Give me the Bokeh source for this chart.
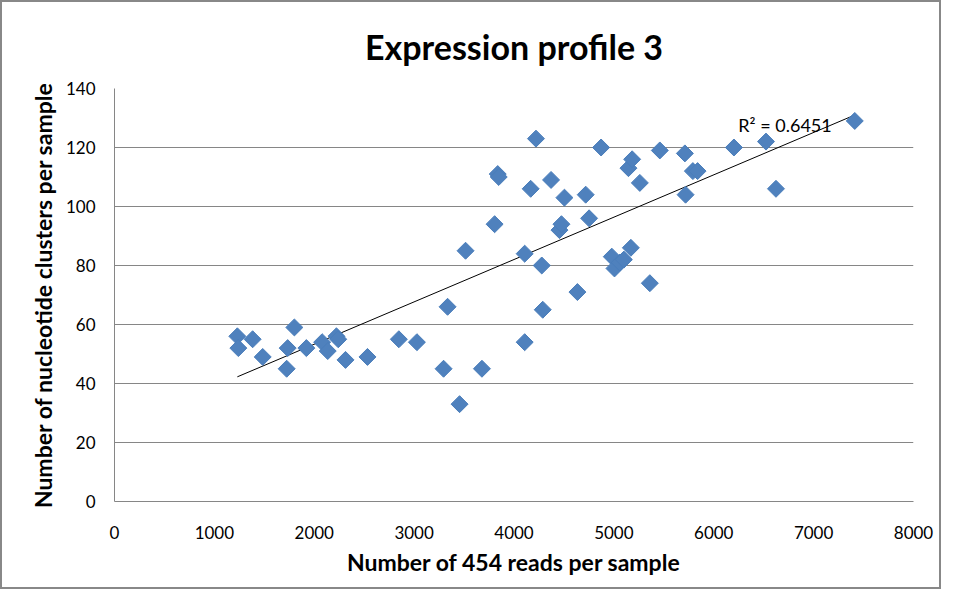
import numpy as np
from bokeh.plotting import figure
from bokeh.models import Range1d, FixedTicker, Label, ColumnDataSource
from bokeh.embed import file_html
from bokeh.resources import INLINE

# ---- data ----
reads = [1230, 1240, 1383, 1484, 1724, 1734, 1801, 1921, 2079, 2135, 2222, 2240,
         2313, 2533, 2847, 3028, 3295, 3335, 3455, 3515, 3679, 3806, 3837, 3847,
         4107, 4107, 4167, 4220, 4278, 4288, 4371, 4455, 4475, 4505, 4635, 4718,
         4752, 4872, 4979, 5006, 5060, 5100, 5146, 5170, 5183, 5260, 5360, 5460,
         5711, 5718, 5791, 5838, 6202, 6523, 6623, 7412]
clusters = [56, 52, 55, 49, 45, 52, 59, 52, 54, 51, 56, 55,
            48, 49, 55, 54, 45, 66, 33, 85, 45, 94, 111, 110,
            54, 84, 106, 123, 80, 65, 109, 92, 94, 103, 71, 104,
            96, 120, 83, 79, 81, 82, 113, 86, 116, 108, 74, 119,
            118, 104, 112, 112, 120, 122, 106, 129]
x_ticks = [0, 1000, 2000, 3000, 4000, 5000, 6000, 7000, 8000]
y_ticks = [0, 20, 40, 60, 80, 100, 120, 140]
title_text = "Expression profile 3"
x_title = "Number of 454 reads per sample"
y_title = "Number of nucleotide clusters per sample"
r2_text = "R\u00b2 = 0.6451"

FONT = "Lato"
GRID = "#868686"

p = figure(output_backend="svg", toolbar_location=None,
           frame_width=799, frame_height=413,
           min_border_left=112, min_border_right=26,
           min_border_top=86, min_border_bottom=86,
           x_range=Range1d(0, 8000), y_range=Range1d(0, 140),
           title=title_text)
p.styles = {"border": "2px solid #888888"}

p.title.align = "center"
p.title.text_font = FONT
p.title.text_font_size = "34px"
p.title.text_font_style = "bold"
p.title.text_color = "black"
p.title.standoff = 43

p.outline_line_color = None
p.xgrid.grid_line_color = None
p.ygrid.grid_line_color = GRID
p.ygrid.grid_line_width = 1

p.xaxis.ticker = FixedTicker(ticks=x_ticks)
p.yaxis.ticker = FixedTicker(ticks=y_ticks)
for ax in (p.xaxis, p.yaxis):
    ax.axis_line_color = GRID
    ax.major_tick_line_color = None
    ax.minor_tick_line_color = None
    ax.major_tick_out = 0
    ax.major_tick_in = 0
    ax.major_label_text_font = FONT
    ax.major_label_text_font_size = "17px"
    ax.major_label_text_color = "black"
    ax.axis_label_text_font = FONT
    ax.axis_label_text_font_size = "23px"
    ax.axis_label_text_font_style = "bold"
    ax.axis_label_text_color = "black"

p.xaxis.axis_label = x_title
p.yaxis.axis_label = y_title
p.xaxis.major_label_standoff = 24
p.xaxis.axis_label_standoff = 6
p.yaxis.major_label_standoff = 19
p.yaxis.axis_label_standoff = 6

# linear trend line from the data
xa = np.array(reads, dtype=float)
ya = np.array(clusters, dtype=float)
slope, intercept = np.polyfit(xa, ya, 1)
tx = [xa.min(), xa.max()]
ty = [slope * t + intercept for t in tx]
p.line(tx, ty, line_color="black", line_width=1)

src = ColumnDataSource(dict(x=reads, y=clusters))
p.scatter("x", "y", source=src, marker="square", size=12, angle=np.pi / 4,
          fill_color="#4F81BD", line_color="#4A7EBB", line_width=1)

p.add_layout(Label(x=6246, y=127.5, text=r2_text, text_font=FONT,
                   text_font_size="18px", text_color="black",
                   text_baseline="alphabetic", text_align="left"))

open("out.html", "w").write(file_html(p, INLINE))
